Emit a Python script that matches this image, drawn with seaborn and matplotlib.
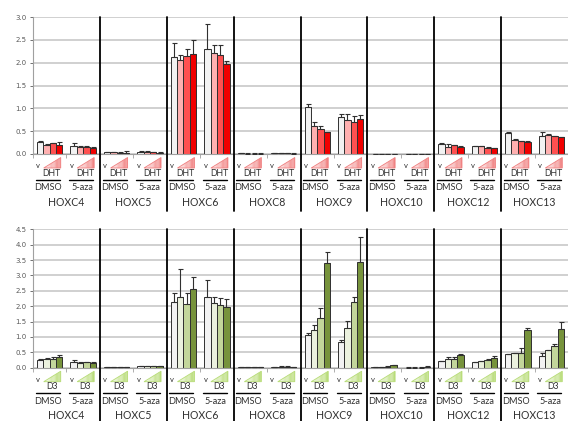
import numpy as np
import pandas as pd
import seaborn as sns
import matplotlib.pyplot as plt
from matplotlib.patches import Polygon
from matplotlib.colors import to_rgb

genes = ["HOXC4", "HOXC5", "HOXC6", "HOXC8", "HOXC9", "HOXC10", "HOXC12", "HOXC13"]
pretreat = ["DMSO", "5-aza"]
doses = ["v", "low", "mid", "high"]

# one row per gene/pretreatment group (DMSO, 5-aza alternating), 4 doses each
dht_mean = [
    [0.27, 0.20, 0.23, 0.20], [0.18, 0.16, 0.16, 0.14],   # HOXC4
    [0.04, 0.04, 0.03, 0.03], [0.05, 0.04, 0.04, 0.03],   # HOXC5
    [2.12, 2.05, 2.15, 2.20], [2.29, 2.22, 2.16, 1.97],   # HOXC6
    [0.02, 0.01, 0.01, 0.01], [0.02, 0.02, 0.02, 0.01],   # HOXC8
    [1.04, 0.61, 0.54, 0.48], [0.80, 0.74, 0.71, 0.76],   # HOXC9
    [0.01, 0.01, 0.01, 0.01], [0.01, 0.01, 0.01, 0.01],   # HOXC10
    [0.22, 0.16, 0.19, 0.16], [0.17, 0.17, 0.14, 0.135],  # HOXC12
    [0.46, 0.31, 0.28, 0.27], [0.39, 0.42, 0.39, 0.365],  # HOXC13
]
dht_err = [
    [0.02, 0.01, 0.01, 0.06], [0.06, 0.01, 0.02, 0.01],
    [0.005, 0.005, 0.01, 0.04], [0.01, 0.02, 0.01, 0.005],
    [0.30, 0.11, 0.16, 0.29], [0.55, 0.16, 0.22, 0.06],
    [0.01, 0.005, 0.005, 0.01], [0.005, 0.005, 0.005, 0.005],
    [0.06, 0.10, 0.07, 0.01], [0.07, 0.13, 0.12, 0.10],
    [0.0, 0.0, 0.0, 0.0], [0.0, 0.0, 0.0, 0.0],
    [0.01, 0.06, 0.01, 0.01], [0.005, 0.005, 0.005, 0.005],
    [0.02, 0.01, 0.01, 0.01], [0.09, 0.01, 0.01, 0.01],
]
d3_mean = [
    [0.26, 0.27, 0.29, 0.36], [0.18, 0.15, 0.19, 0.15],
    [0.03, 0.03, 0.03, 0.03], [0.05, 0.05, 0.04, 0.04],
    [2.14, 2.31, 2.07, 2.55], [2.29, 2.09, 2.03, 1.96],
    [0.02, 0.02, 0.01, 0.02], [0.02, 0.03, 0.03, 0.02],
    [1.05, 1.23, 1.60, 3.40], [0.82, 1.29, 2.15, 3.43],
    [0.01, 0.02, 0.03, 0.08], [0.005, 0.005, 0.005, 0.01],
    [0.21, 0.27, 0.27, 0.41], [0.18, 0.21, 0.25, 0.30],
    [0.45, 0.47, 0.49, 1.22], [0.38, 0.57, 0.71, 1.25],
]
d3_err = [
    [0.01, 0.06, 0.05, 0.04], [0.07, 0.02, 0.01, 0.05],
    [0.005, 0.005, 0.005, 0.005], [0.01, 0.01, 0.01, 0.01],
    [0.30, 0.89, 0.35, 0.39], [0.55, 0.21, 0.23, 0.27],
    [0.01, 0.01, 0.01, 0.01], [0.01, 0.01, 0.01, 0.01],
    [0.07, 0.15, 0.33, 0.35], [0.08, 0.22, 0.14, 0.83],
    [0.0, 0.01, 0.01, 0.01], [0.005, 0.005, 0.005, 0.03],
    [0.02, 0.07, 0.07, 0.03], [0.01, 0.02, 0.02, 0.08],
    [0.01, 0.01, 0.14, 0.06], [0.11, 0.01, 0.05, 0.24],
]

dht_colors = ["#f2f2f2", "#ffb0b0", "#ff5050", "#f00000"]
d3_colors = ["#f2f2f2", "#ebf1de", "#c3d69b", "#77933c"]

W, H = 568, 421
fig = plt.figure(figsize=(W / 100, H / 100), dpi=100)
sns.set_style("white")
plt.rcParams["font.family"] = ["Lato", "DejaVu Sans"]

groups = [f"{g} {p}" for g in genes for p in pretreat]


def make_df(means):
    rows = []
    for gi, grp in enumerate(groups):
        for di, d in enumerate(doses):
            rows.append({"group": grp, "dose": d, "value": means[gi][di]})
    return pd.DataFrame(rows)


def add_axes(left, top, right, bottom):
    ax = fig.add_axes([left / W, 1 - bottom / H, (right - left) / W, (bottom - top) / H])
    return ax, right - left, bottom - top


def draw_panel(box, means, errs, colors, ymax, treat, tri_light, tri_dark,
               gene_dy):
    ax, w_px, h_px = add_axes(*box)
    px_unit = w_px / len(groups)
    df = make_df(means)
    sns.barplot(data=df, x="group", y="value", hue="dose", order=groups,
                hue_order=doses, palette=colors, saturation=1, width=0.76,
                edgecolor="#303030", linewidth=0.7, errorbar=None,
                legend=False, ax=ax)
    # one-sided error bars on top of seaborn's bars
    bar_containers = list(ax.containers)
    for hi, cont in enumerate(bar_containers):
        for bar in cont:
            xc = bar.get_x() + bar.get_width() / 2
            gi = int(round(xc))
            e = errs[gi][hi]
            ax.errorbar(xc, bar.get_height(), yerr=[[0], [e]], fmt="none",
                        ecolor="#303030", elinewidth=0.8, capsize=1.8,
                        capthick=0.8, zorder=4)

    ticks = np.arange(0, ymax + 0.01, 0.5)
    ax.set_xlim(-0.5, len(groups) - 0.5)
    ax.set_ylim(0, ymax)
    ax.set_yticks(ticks)
    ax.set_yticklabels([f"{v:.1f}" for v in ticks], family="DejaVu Sans")
    ax.set_xticks(np.arange(-0.5, len(groups), 1.0))
    ax.set_xticklabels([])
    ax.set_xlabel("")
    ax.set_ylabel("")
    ax.yaxis.grid(True, color="#d0d0d0", linewidth=1.4)
    ax.set_axisbelow(True)
    for s in ["top", "right"]:
        ax.spines[s].set_visible(False)
    for s in ["left", "bottom"]:
        ax.spines[s].set_color("#a0a0a0")
        ax.spines[s].set_linewidth(0.8)
    ax.tick_params(axis="y", labelsize=5, colors="#595959", length=2.5,
                   width=0.6, pad=2, left=True)
    ax.tick_params(axis="x", length=3, width=0.6, colors="#a0a0a0", bottom=True)

    trans = ax.get_xaxis_transform()

    def px(dx, dy):
        return dx / px_unit, -dy / h_px

    # gene separators running down through the label area
    for k in range(1, len(genes)):
        xs = 2 * k - 0.5
        ax.plot([xs, xs], [1, -57 / h_px], color="black", lw=1.3,
                transform=trans, clip_on=False, zorder=5)

    c0, c1 = np.array(to_rgb(tri_light)), np.array(to_rgb(tri_dark))
    for gi, grp in enumerate(groups):
        pre = pretreat[gi % 2]
        xc = gi
        dx, dy = px(-11.5, 12)
        ax.text(xc + dx, dy, "v", transform=trans, fontsize=5.5,
                color="#303030", ha="center", va="center")
        # ramp triangle for increasing dose
        x0, x1 = xc + px(-6, 0)[0], xc + px(11, 0)[0]
        yb, yt = px(0, 14)[1], px(0, 3.5)[1]
        n = 14
        for i in range(n):
            xa = x0 + (x1 - x0) * i / n
            xb = x0 + (x1 - x0) * (i + 1) / n
            ya = yb + (yt - yb) * i / n
            yb2 = yb + (yt - yb) * (i + 1) / n
            col = c0 + (c1 - c0) * (i + 0.5) / n
            ax.add_patch(Polygon([(xa, yb), (xb, yb), (xb, yb2), (xa, ya)],
                                 closed=True, facecolor=col, edgecolor="none",
                                 transform=trans, clip_on=False))
        ax.add_patch(Polygon([(x0, yb), (x1, yb), (x1, yt)], closed=True,
                             facecolor="none", edgecolor=tri_dark, lw=0.6,
                             transform=trans, clip_on=False))
        dx, dy = px(2, 19)
        ax.text(xc + dx, dy, treat, transform=trans, fontsize=6.3,
                color="#303030", ha="center", va="center")
        xa, ya = px(-14, 25.5)
        xb, _ = px(10, 0)
        ax.plot([xc + xa, xc + xb], [ya, ya], color="black", lw=1.0,
                transform=trans, clip_on=False)
        dx, dy = px(-2 if pre == "DMSO" else -1, 33.5)
        ax.text(xc + dx, dy, pre, transform=trans, fontsize=6.6,
                color="#303030", ha="center", va="center")
    for k, g in enumerate(genes):
        _, dy = px(0, gene_dy)
        ax.text(2 * k + 0.5, dy, g, transform=trans, fontsize=7.6,
                color="#303030", ha="center", va="center")
    return ax


draw_panel((33, 17, 568, 154), dht_mean, dht_err, dht_colors, 3.0, "DHT",
           "#fff0f0", "#f08080", 48)
draw_panel((33, 229.3, 568, 367.7), d3_mean, d3_err, d3_colors, 4.5, "D3",
           "#f4fae6", "#b8dc78", 47.5)

fig.savefig("out.png", dpi=100)
